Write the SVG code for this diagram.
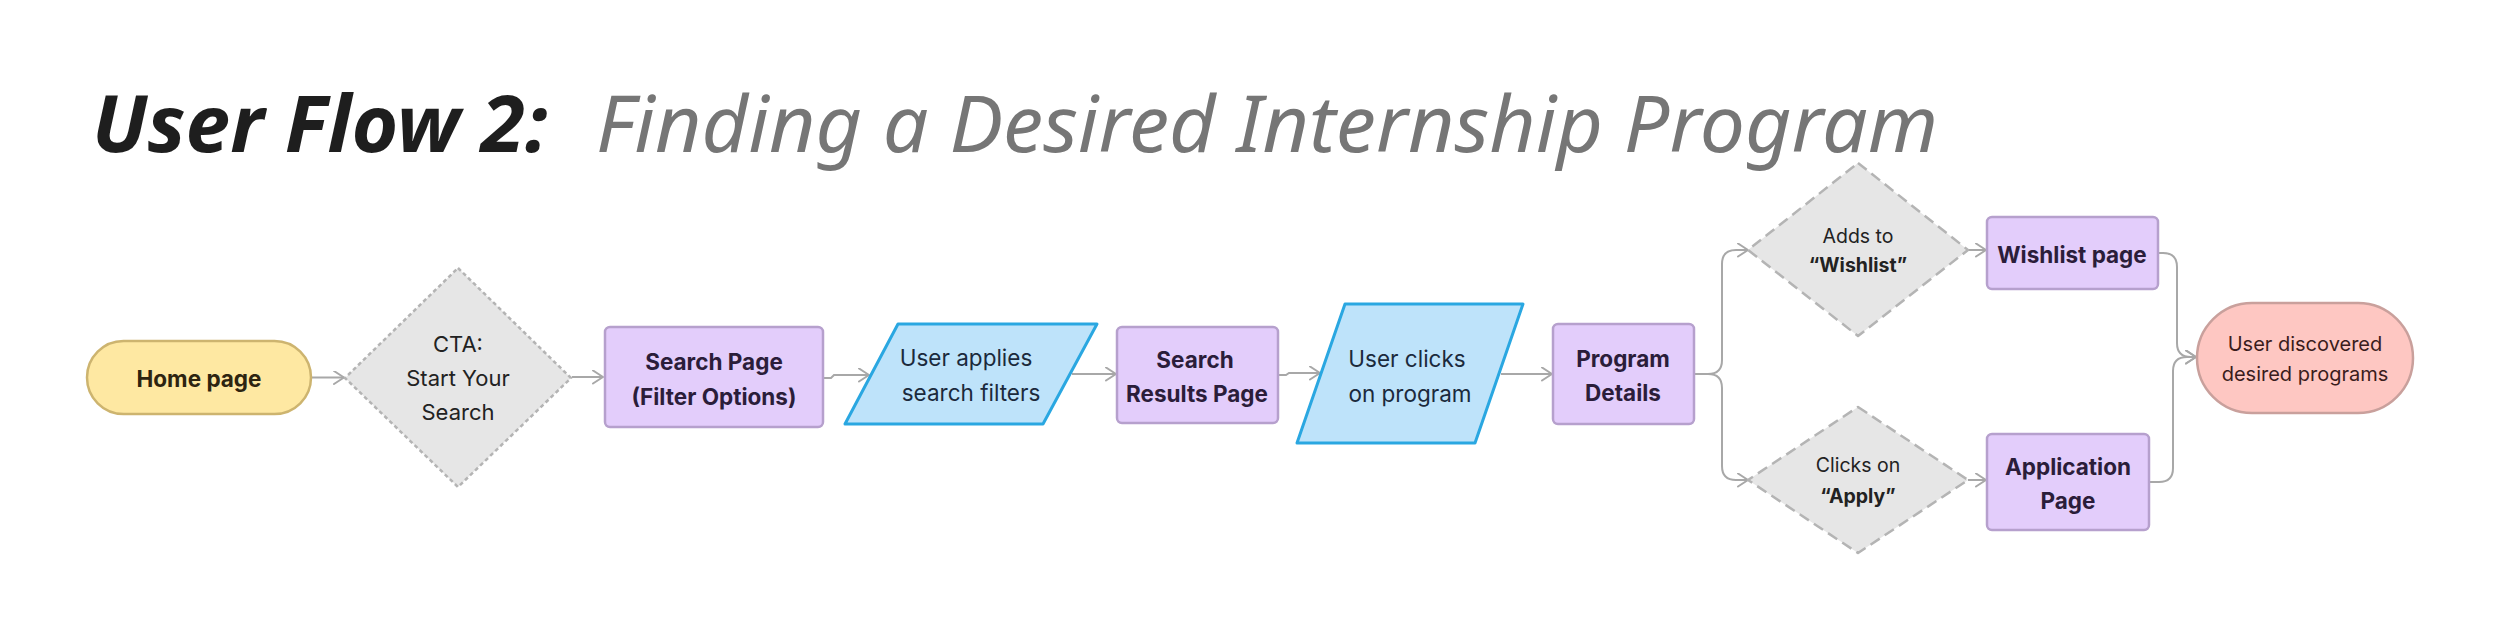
<svg xmlns="http://www.w3.org/2000/svg" width="2500" height="640" viewBox="0 0 2500 640">
<defs>
<marker id="arr" markerUnits="userSpaceOnUse" markerWidth="14" markerHeight="16" refX="11" refY="7" orient="auto" viewBox="0 0 14 16">
<path d="M1,0.5 L11,7 L1,13.5" fill="none" stroke="#a8a8a8" stroke-width="2" stroke-linecap="round" stroke-linejoin="round"/>
</marker>
</defs>
<style>
text{font-family:Inter,"Noto Sans","Liberation Sans",sans-serif;text-anchor:middle;dominant-baseline:central}
.t1{font-family:"Noto Sans","DejaVu Sans",sans-serif;font-style:italic;font-weight:700;font-size:78px;fill:#1e1e1e;text-anchor:start;dominant-baseline:alphabetic}
.t2{font-family:"Noto Sans","DejaVu Sans",sans-serif;font-style:italic;font-weight:400;font-size:78px;fill:#767676;text-anchor:start;dominant-baseline:alphabetic}
.pill-y{fill:#fee8a2;stroke:#cdb46f;stroke-width:2.5}
.pill-r{fill:#fec7c2;stroke:#c9a09c;stroke-width:2.5}
.box{fill:#e3cdfb;stroke:#b6a0cd;stroke-width:2.5}
.para{fill:#bee3fa;stroke:#2aa7e1;stroke-width:3;stroke-linejoin:round}
.dia{fill:#e6e6e6;stroke:#b4b4b4;stroke-width:2.5}
.dot{stroke-dasharray:4 3}
.dash{stroke-dasharray:11 6}
.bt{font-weight:700;font-size:22.5px;fill:#2b1d3a}
.yt{font-weight:700;font-size:22.5px;fill:#2d2410}
.blt{font-weight:400;font-size:22.5px;fill:#1b2a3c}
.dt{font-weight:400;font-size:22px;fill:#222222}
.ds{font-weight:400;font-size:19.5px;fill:#222222}
.dsb{font-weight:700;font-size:19.5px;fill:#222222}
.rt{font-weight:400;font-size:20px;fill:#3a1c1c}
.conn path{fill:none;stroke:#a8a8a8;stroke-width:2}
</style>
<g id="title">
<text class="t1" x="92" y="152" textLength="456" lengthAdjust="spacingAndGlyphs">User Flow 2:</text>
<text class="t2" x="596" y="152" textLength="1342" lengthAdjust="spacingAndGlyphs">Finding a Desired Internship Program</text>
</g>
<g class="conn" id="connectors">
<path d="M311,377.5 H344" marker-end="url(#arr)"/>
<path d="M572,377 H603" marker-end="url(#arr)"/>
<path d="M823,378 H831 L834,375 H869" marker-end="url(#arr)"/>
<path d="M1072,374 H1116" marker-end="url(#arr)"/>
<path d="M1279,375 H1286 L1289,373 H1320" marker-end="url(#arr)"/>
<path d="M1501,374 H1552" marker-end="url(#arr)"/>
<path d="M1694,374 H1708 Q1722,374 1722,360 V264 Q1722,250 1736,250 H1748" marker-end="url(#arr)"/>
<path d="M1694,374 H1708 Q1722,374 1722,388 V466 Q1722,480 1736,480 H1748" marker-end="url(#arr)"/>
<path d="M1968,250 H1986" marker-end="url(#arr)"/>
<path d="M1968,480 H1986" marker-end="url(#arr)"/>
<path d="M2159,253 H2163 Q2177,253 2177,267 V343 Q2177,357 2191,357 H2196" marker-end="url(#arr)"/>
<path d="M2150,482 H2159 Q2173,482 2173,468 V371 Q2173,357 2187,357 H2196" marker-end="url(#arr)"/>
</g>
<g id="home">
<rect class="pill-y" x="87" y="341" width="224" height="73" rx="36.5"/>
<text class="yt" x="199" y="378">Home page</text>
</g>
<g id="cta">
<path class="dia dot" d="M458,268 L571,378 L458,487 L345,378 Z" stroke-linejoin="round"/>
<text class="dt" x="458" y="344">CTA:</text>
<text class="dt" x="458" y="378">Start Your</text>
<text class="dt" x="458" y="412">Search</text>
</g>
<g id="search-page">
<rect class="box" x="605" y="327" width="218" height="100" rx="5"/>
<text class="bt" x="714" y="361">Search Page</text>
<text class="bt" x="714" y="396">(Filter Options)</text>
</g>
<g id="apply-filters">
<path class="para" d="M898,324 H1097 L1043,424 H845 Z"/>
<text class="blt" x="966" y="357">User applies</text>
<text class="blt" x="971" y="392">search filters</text>
</g>
<g id="search-results">
<rect class="box" x="1117" y="327" width="161" height="96" rx="5"/>
<text class="bt" x="1195" y="359">Search</text>
<text class="bt" x="1197" y="393">Results Page</text>
</g>
<g id="clicks-program">
<path class="para" d="M1345,304 H1523 L1475,443 H1297 Z"/>
<text class="blt" x="1407" y="358">User clicks</text>
<text class="blt" x="1410" y="393">on program</text>
</g>
<g id="program-details">
<rect class="box" x="1553" y="324" width="141" height="100" rx="5"/>
<text class="bt" x="1623" y="358">Program</text>
<text class="bt" x="1623" y="392">Details</text>
</g>
<g id="adds-wishlist">
<path class="dia dash" d="M1858,163 L1968,250 L1858,336 L1748,250 Z" stroke-linejoin="round"/>
<text class="ds" x="1858" y="236">Adds to</text>
<text class="dsb" x="1858" y="265">“Wishlist”</text>
</g>
<g id="wishlist-page">
<rect class="box" x="1987" y="217" width="171" height="72" rx="5"/>
<text class="bt" x="2072" y="254">Wishlist page</text>
</g>
<g id="clicks-apply">
<path class="dia dash" d="M1858,407 L1968,480 L1858,553 L1748,480 Z" stroke-linejoin="round"/>
<text class="ds" x="1858" y="465">Clicks on</text>
<text class="dsb" x="1858" y="496">“Apply”</text>
</g>
<g id="application-page">
<rect class="box" x="1987" y="434" width="162" height="96" rx="5"/>
<text class="bt" x="2068" y="466">Application</text>
<text class="bt" x="2068" y="500">Page</text>
</g>
<g id="discovered">
<rect class="pill-r" x="2197" y="303" width="216" height="110" rx="55"/>
<text class="rt" x="2305" y="344">User discovered</text>
<text class="rt" x="2305" y="374">desired programs</text>
</g>
</svg>
